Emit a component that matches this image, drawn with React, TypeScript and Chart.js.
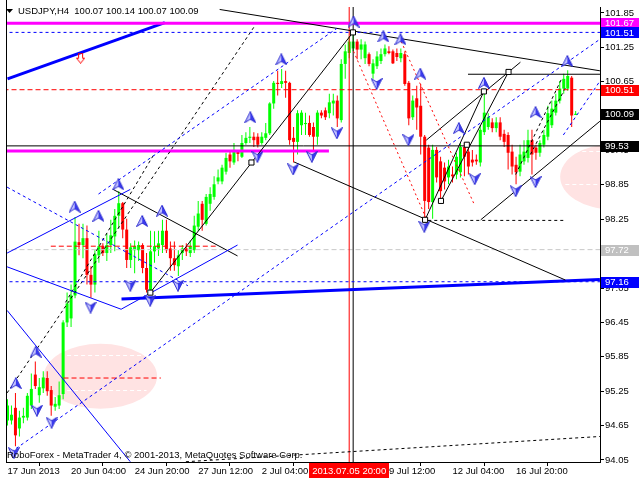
import React, { useEffect, useRef } from "react";
import { Chart, registerables } from "chart.js";

Chart.register(...registerables);

const FONT = "'Liberation Sans', Arial, sans-serif";
const symbolName = "USDJPY,H4";
const footerText = "RoboForex - MetaTrader 4, \u00a9 2001-2013, MetaQuotes Software Corp.";

// H4 candles, bar index 0 = 17 Jun 2013
const opens = [
  94.74, 94.74, 94.96, 94.60, 94.79, 94.79, 95.00, 95.54, 95.18, 95.30,
  95.48, 95.27, 94.98, 95.00, 95.20, 96.45, 96.52, 96.92, 97.85, 97.80,
  97.92, 97.28, 97.11, 97.62, 97.78, 97.66, 97.80, 97.95, 98.31, 98.53,
  98.07, 97.54, 97.71, 97.71, 97.80, 97.40, 97.02, 97.69, 97.74, 97.80,
  98.05, 97.74, 97.57, 97.43, 97.66, 97.74, 97.66, 97.71, 98.12, 98.52,
  98.17, 98.52, 98.64, 98.91, 98.91, 99.08, 99.38, 99.24, 99.43, 99.34,
  99.58, 99.67, 99.69, 99.69, 99.58, 99.67, 99.75, 100.27, 100.63, 100.61,
  100.66, 100.63, 99.67, 99.60, 99.89, 99.91, 99.93, 99.86, 99.69, 100.11,
  100.15, 100.10, 100.27, 100.32, 99.98, 100.96, 101.15, 101.23, 101.35, 101.21,
  101.06, 101.13, 100.79, 100.92, 101.01, 101.13, 101.18, 101.18, 101.15, 101.06,
  101.13, 100.63, 100.03, 100.36, 100.23, 99.69, 99.50, 98.55, 99.46, 99.26,
  99.15, 98.98, 99.03, 99.03, 99.07, 99.51, 99.43, 99.29, 99.29, 99.24,
  99.77, 99.86, 99.94, 99.84, 99.94, 99.74, 99.72, 99.43, 99.20, 99.08,
  99.26, 99.32, 99.63, 99.50, 99.41, 99.55, 99.69, 99.89, 100.11, 100.32,
  100.53, 100.53, 100.72, 100.07,
];
const highs = [
  95.11, 95.00, 95.22, 94.91, 94.96, 95.22, 95.56, 95.77, 95.48, 95.60,
  95.60, 95.34, 95.15, 95.42, 96.49, 96.97, 97.11, 98.29, 98.17, 98.17,
  98.14, 97.43, 97.71, 98.05, 97.83, 98.00, 98.24, 98.43, 98.74, 98.55,
  98.26, 97.83, 97.88, 97.86, 97.83, 97.66, 98.05, 98.04, 98.05, 98.24,
  98.24, 97.86, 97.86, 97.71, 97.80, 97.83, 97.88, 98.31, 98.57, 98.57,
  98.69, 98.81, 99.00, 99.12, 99.20, 99.41, 99.43, 99.58, 99.44, 99.72,
  99.77, 99.86, 99.77, 99.75, 99.77, 99.93, 100.29, 100.66, 100.84, 100.87,
  100.84, 100.65, 99.86, 100.15, 100.15, 100.11, 100.06, 99.94, 100.15, 100.15,
  100.20, 100.44, 100.44, 100.41, 101.04, 101.30, 101.44, 101.52, 101.39, 101.39,
  101.35, 101.16, 101.04, 101.18, 101.23, 101.30, 101.27, 101.21, 101.23, 101.23,
  101.18, 100.66, 100.41, 100.58, 100.61, 99.72, 99.55, 99.55, 99.51, 99.34,
  99.24, 99.29, 99.17, 99.41, 99.58, 99.58, 99.50, 99.46, 99.38, 99.89,
  100.49, 100.10, 100.01, 100.03, 100.03, 99.81, 99.77, 99.55, 99.34, 99.55,
  99.63, 99.81, 99.81, 99.55, 99.63, 99.81, 100.23, 100.32, 100.44, 100.66,
  100.79, 100.85, 100.75, 100.14,
];
const lows = [
  94.65, 94.67, 94.29, 94.46, 94.69, 94.74, 94.94, 95.29, 95.05, 95.22,
  95.17, 94.82, 94.91, 94.94, 95.11, 96.37, 96.37, 96.87, 97.62, 97.57,
  97.11, 96.88, 96.97, 97.49, 97.61, 97.52, 97.66, 97.69, 98.09, 97.92,
  97.40, 97.40, 97.31, 97.52, 97.31, 96.97, 96.94, 97.49, 97.61, 97.66,
  97.66, 97.35, 97.35, 97.26, 97.54, 97.61, 97.59, 97.66, 98.05, 98.05,
  98.14, 98.40, 98.59, 98.86, 98.86, 99.03, 99.15, 99.20, 99.26, 99.32,
  99.55, 99.58, 99.51, 99.50, 99.55, 99.63, 99.72, 100.18, 100.41, 100.54,
  100.37, 99.55, 99.24, 99.38, 99.72, 99.72, 99.69, 99.46, 99.55, 100.01,
  99.98, 100.01, 100.06, 99.86, 99.94, 100.70, 101.06, 101.18, 101.04, 101.04,
  100.96, 100.92, 100.70, 100.87, 100.96, 101.09, 101.13, 100.96, 101.01, 100.99,
  100.58, 99.89, 99.98, 99.81, 99.38, 98.26, 98.43, 98.26, 98.89, 98.57,
  98.77, 98.86, 98.89, 98.95, 98.98, 99.00, 99.03, 99.17, 99.20, 99.17,
  99.72, 99.81, 99.77, 99.77, 99.63, 99.51, 99.12, 99.03, 98.86, 99.00,
  99.20, 99.24, 99.03, 99.29, 99.34, 99.50, 99.63, 99.84, 100.06, 100.27,
  100.44, 100.49, 99.86, 100.07,
];
const closes = [
  95.00, 94.84, 94.48, 94.79, 94.82, 95.17, 95.29, 95.34, 95.32, 95.49,
  95.25, 95.00, 95.03, 95.18, 96.45, 96.78, 96.92, 97.86, 97.80, 97.92,
  97.28, 97.11, 97.64, 97.78, 97.66, 97.80, 97.97, 98.31, 98.53, 98.07,
  97.54, 97.76, 97.78, 97.80, 97.40, 97.02, 97.69, 97.78, 97.83, 98.05,
  97.71, 97.57, 97.45, 97.62, 97.74, 97.69, 97.78, 98.14, 98.35, 98.24,
  98.64, 98.69, 98.86, 98.98, 99.15, 99.32, 99.26, 99.46, 99.39, 99.58,
  99.67, 99.69, 99.63, 99.55, 99.69, 99.75, 100.27, 100.63, 100.61, 100.66,
  100.63, 99.63, 99.60, 100.10, 100.11, 99.93, 99.72, 99.69, 100.11, 100.06,
  100.03, 100.29, 100.32, 100.01, 100.96, 101.18, 101.35, 101.35, 101.21, 101.30,
  101.30, 100.96, 100.97, 101.09, 101.13, 101.23, 101.15, 100.97, 101.08, 101.15,
  100.61, 100.01, 100.32, 100.20, 99.69, 98.57, 98.55, 99.46, 98.98, 98.74,
  98.91, 99.17, 99.00, 99.34, 99.51, 99.34, 99.17, 99.24, 99.26, 99.81,
  100.11, 100.03, 99.84, 99.94, 99.69, 99.60, 99.41, 99.17, 99.07, 99.38,
  99.43, 99.63, 99.38, 99.41, 99.58, 99.72, 100.10, 100.18, 100.32, 100.53,
  100.70, 100.75, 100.06, 100.09,
];

const xTickBars = [0, 16, 32, 48, 64, 80, 96, 112, 128];
const xTickLabels = [
  "17 Jun 2013", "20 Jun 04:00", "24 Jun 20:00", "27 Jun 12:00", "2 Jul 04:00",
  "4 Jul 20:00", "9 Jul 12:00", "12 Jul 04:00", "16 Jul 20:00",
];
const yTickValues = [101.85, 101.25, 100.65, 100.05, 99.45, 98.85, 98.25, 97.65, 97.05, 96.45, 95.85, 95.25, 94.65, 94.05];

const levelPrices = [101.67, 101.51, 100.51, 100.09, 99.53, 97.72, 97.16];
const levelColors = ["#ff00ff", "#0000ff", "#ff0000", "#000000", "#000000", "#c0c0c0", "#0000ff"];

const markerBar = 86;
const markerLabel = "2013.07.05 20:00";
const verticalBars = [86, 87];
const verticalColors = ["#ff0000", "#000000"];

// segments: [bar1, price1, bar2, price2]
const magentaLines = [[-1, 101.67, 151, 101.67], [-1, 99.44, 80.9, 99.44]];
const blueThickLines = [[0, 100.7, 39.6, 101.68], [28.7, 96.86, 149.1, 97.2]];
const blackSolidLines = [
  [-1, 99.53, 151, 99.53],
  [53.4, 101.91, 149.1, 100.84],
  [72.1, 99.25, 140.4, 97.19],
  [35.95, 96.97, 86.95, 101.51],
  [105.1, 98.24, 119.9, 100.48],
  [109.1, 98.57, 126.1, 100.82],
  [105.4, 99.63, 129.1, 100.99],
  [115.9, 100.78, 151, 100.78],
  [119.1, 98.24, 149.1, 99.96],
  [26.6, 98.77, 57.9, 97.61],
];
const blackDashedLines = [
  [105.9, 98.23, 140.4, 98.23],
  [-0.1, 95.22, 62.1, 101.61],
  [14.6, 96.8, 37.1, 99.41],
  [127.9, 99.03, 139.6, 100.72],
  [131.6, 99.38, 140.4, 100.54],
  [44.9, 94.02, 149.1, 94.46],
];
const blueDashedLines = [
  [-1, 101.51, 151, 101.51],
  [-1, 97.16, 151, 97.16],
  [22.9, 98.69, 82.9, 101.58],
  [0.9, 94.19, 149.1, 101.39],
  [139.9, 99.72, 149.1, 100.66],
  [-0.1, 98.81, 45.4, 97.09],
];
const blueSolidLines = [
  [-0.1, 97.66, 30.9, 98.77],
  [-0.1, 97.42, 28.6, 96.68],
  [28.6, 96.68, 57.9, 97.8],
  [-0.1, 96.66, 30.9, 94.02],
];
const redDashedLines = [
  [-1, 100.51, 151, 100.51],
  [10.9, 97.78, 52.4, 97.78],
  [14.1, 95.48, 38.6, 95.48],
];
const redDottedLines = [
  [87.1, 101.18, 105.4, 98.26],
  [99.1, 101.35, 117.4, 98.52],
];
const grayDashedLines = [[-1, 97.72, 151, 97.72]];

const fractalUp = [
  [16.9, 98.47], [22.9, 98.31], [27.9, 98.86], [33.9, 98.22], [38.9, 98.4],
  [7.1, 95.94], [2.1, 95.39], [68.9, 101.04], [61.1, 100.03], [87.1, 101.7],
  [94.6, 101.44], [98.9, 101.39], [103.9, 100.79], [119.9, 100.63], [113.6, 99.84],
  [132.9, 100.12], [140.9, 101.01],
];
const fractalDown = [
  [20.9, 96.71], [30.9, 97.09], [35.9, 96.83], [42.9, 97.09], [7.4, 94.91],
  [11.1, 94.7], [1.6, 94.17], [62.9, 99.34], [76.6, 99.34], [71.9, 99.12],
  [82.9, 99.75], [92.9, 100.61], [100.9, 99.63], [104.9, 98.12], [117.6, 98.95],
  [127.9, 98.74], [132.9, 98.9],
];
const zigzagPoints = [
  [35.95, 96.97], [61.4, 99.24], [86.95, 101.51], [105.1, 98.24],
  [109.1, 98.57], [115.6, 99.55], [119.9, 100.48], [126.1, 100.82],
];
const redArrowPoints = [[18.4, 101.06]];

const ellipseCenters = [[23.4, 95.51], [152.1, 98.99]];
const ellipseRadii = [[14.25, 0.567], [13, 0.567]];
const ellipseInnerLines = [
  [15, 95.89, 35, 95.89], [15, 95.27, 35, 95.27],
  [142.9, 99.44, 151, 99.44], [140.4, 98.86, 151, 98.86],
];

function makeFractal(up: boolean) {
  const c = document.createElement("canvas");
  c.width = 12;
  c.height = 12;
  const g = c.getContext("2d") as CanvasRenderingContext2D;
  if (!up) {
    g.translate(0, 12);
    g.scale(1, -1);
  }
  g.beginPath();
  g.moveTo(6, 0.5); g.lineTo(0.5, 11.5); g.lineTo(6, 8); g.closePath();
  g.fillStyle = "#c4c4ff"; g.fill();
  g.beginPath();
  g.moveTo(6, 0.5); g.lineTo(11.5, 11.5); g.lineTo(6, 8); g.closePath();
  g.fillStyle = "#3a3af0"; g.fill();
  g.beginPath();
  g.moveTo(6, 0.5); g.lineTo(11.5, 11.5); g.lineTo(6, 8); g.lineTo(0.5, 11.5); g.closePath();
  g.strokeStyle = "#2a2ad0"; g.lineWidth = 1; g.stroke();
  return c;
}

function makeRedArrow() {
  const c = document.createElement("canvas");
  c.width = 9;
  c.height = 11;
  const g = c.getContext("2d") as CanvasRenderingContext2D;
  g.beginPath();
  g.moveTo(2.5, 0.5); g.lineTo(6.5, 0.5); g.lineTo(6.5, 5.5); g.lineTo(8.5, 5.5);
  g.lineTo(4.5, 10.5); g.lineTo(0.5, 5.5); g.lineTo(2.5, 5.5); g.closePath();
  g.strokeStyle = "#ff0000"; g.lineWidth = 1; g.stroke();
  return c;
}

function segs(list: number[][], color: string, width: number, dash: number[], order = 1) {
  return list.map(([a, p, b, q]) => ({
    type: "line",
    data: [{ x: a, y: p }, { x: b, y: q }],
    borderColor: color,
    borderWidth: width,
    borderDash: dash,
    pointRadius: 0,
    fill: false,
    tension: 0,
    order,
  }));
}

const bgPlugin = {
  id: "bgShapes",
  beforeDatasetsDraw(chart: any) {
    const { ctx, chartArea, scales } = chart;
    const x = scales.x, y = scales.y;
    ctx.save();
    ctx.beginPath();
    ctx.rect(chartArea.left, chartArea.top, chartArea.right - chartArea.left, chartArea.bottom - chartArea.top);
    ctx.clip();
    ellipseCenters.forEach(([ci, cp], k) => {
      const [rb, rp] = ellipseRadii[k];
      const cx = x.getPixelForValue(ci);
      const cy = y.getPixelForValue(cp);
      const rx = Math.abs(x.getPixelForValue(ci + rb) - cx);
      const ry = Math.abs(y.getPixelForValue(cp + rp) - cy);
      ctx.beginPath();
      ctx.ellipse(cx, cy, rx, ry, 0, 0, Math.PI * 2);
      ctx.fillStyle = "#ffe3e3";
      ctx.fill();
    });
    ctx.strokeStyle = "#ffffff";
    ctx.lineWidth = 1;
    ctx.setLineDash([4, 3]);
    ellipseInnerLines.forEach(([a, p, b, q]) => {
      ctx.beginPath();
      ctx.moveTo(x.getPixelForValue(a), Math.round(y.getPixelForValue(p)) + 0.5);
      ctx.lineTo(x.getPixelForValue(b), Math.round(y.getPixelForValue(q)) + 0.5);
      ctx.stroke();
    });
    ctx.restore();
  },
};

const overlayPlugin = {
  id: "overlay",
  afterDraw(chart: any) {
    const { ctx, chartArea, scales } = chart;
    const x = scales.x, y = scales.y;
    ctx.save();
    // left frame
    ctx.fillStyle = "#000000";
    ctx.fillRect(chartArea.left - 1, 0, 1, chartArea.bottom + 1);

    ctx.font = `9.5px ${FONT}`;
    ctx.textBaseline = "middle";
    ctx.textAlign = "left";
    // price level boxes
    levelPrices.forEach((p, k) => {
      const py = y.getPixelForValue(p);
      ctx.fillStyle = levelColors[k];
      ctx.fillRect(chartArea.right + 1, Math.round(py) - 5, 38, 11);
      ctx.fillStyle = "#ffffff";
      ctx.fillText(p.toFixed(2), chartArea.right + 5, py + 0.5);
    });

    // time marker label
    const mx = x.getPixelForValue(markerBar);
    const tw = ctx.measureText(markerLabel).width;
    ctx.fillStyle = "#ff0000";
    ctx.fillRect(Math.round(mx - tw / 2 - 3), chartArea.bottom + 1, Math.round(tw + 6), 15);
    ctx.fillStyle = "#ffffff";
    ctx.fillText(markerLabel, mx - tw / 2, chartArea.bottom + 9);

    // header
    const last = opens.length - 1;
    ctx.fillStyle = "#000000";
    ctx.beginPath();
    ctx.moveTo(6, 9); ctx.lineTo(13, 9); ctx.lineTo(9.5, 13); ctx.closePath();
    ctx.fill();
    ctx.textBaseline = "alphabetic";
    ctx.fillText(
      `${symbolName}  ${opens[last].toFixed(2)} ${highs[last].toFixed(2)} ${lows[last].toFixed(2)} ${closes[last].toFixed(2)}`,
      18, 14
    );
    // footer
    ctx.fillText(footerText, 7, 458);
    ctx.restore();
  },
};

export default function App() {
  const ref = useRef<HTMLCanvasElement>(null);
  useEffect(() => {
    const canvas = ref.current;
    if (!canvas) return;
    const colors = opens.map((o, i) => (closes[i] >= o ? "#00ff00" : "#ff0000"));
    const fracUpImg = makeFractal(true);
    const fracDownImg = makeFractal(false);
    const redArrowImg = makeRedArrow();

    const datasets: any[] = [
      {
        type: "bar",
        data: opens.map((o, i) => ({ x: i, y: [lows[i], highs[i]] })),
        backgroundColor: colors,
        barThickness: 1,
        grouped: false,
        inflateAmount: 0,
        borderWidth: 0,
        order: 6,
      },
      {
        type: "bar",
        data: opens.map((o, i) => ({ x: i, y: [o, closes[i]] })),
        backgroundColor: colors,
        barThickness: 3,
        minBarLength: 1,
        grouped: false,
        inflateAmount: 0,
        borderWidth: 0,
        order: 5,
      },
      ...segs(grayDashedLines, "#c8c8c8", 1, [5, 3], 3),
      ...verticalBars.map((b, k) => ({
        type: "line",
        data: [{ x: b, y: 94.015 }, { x: b, y: 101.953 }],
        borderColor: verticalColors[k],
        borderWidth: 1,
        pointRadius: 0,
        fill: false,
        order: 2,
      })),
      ...segs(blueSolidLines, "#0000ff", 1, []),
      ...segs(blueDashedLines, "#0000ff", 1, [3, 3]),
      ...segs(redDashedLines, "#ff0000", 1, [5, 3]),
      ...segs(redDottedLines, "#ff0000", 1, [2, 3]),
      ...segs(blackDashedLines, "#000000", 1, [3, 3]),
      ...segs(blackSolidLines, "#000000", 1, []),
      ...segs(magentaLines, "#ff00ff", 3, []),
      ...segs(blueThickLines, "#0000ff", 3, []),
      {
        type: "line",
        showLine: false,
        data: zigzagPoints.map(([a, p]) => ({ x: a, y: p })),
        pointStyle: "rect",
        pointRadius: 3.6,
        pointBackgroundColor: "#ffffff",
        pointBorderColor: "#000000",
        pointBorderWidth: 1,
        order: 0,
      },
      {
        type: "line",
        showLine: false,
        data: fractalUp.map(([a, p]) => ({ x: a, y: p })),
        pointStyle: fracUpImg,
        pointRadius: 6,
        order: 0,
      },
      {
        type: "line",
        showLine: false,
        data: fractalDown.map(([a, p]) => ({ x: a, y: p })),
        pointStyle: fracDownImg,
        pointRadius: 6,
        order: 0,
      },
      {
        type: "line",
        showLine: false,
        data: redArrowPoints.map(([a, p]) => ({ x: a, y: p })),
        pointStyle: redArrowImg,
        pointRadius: 5,
        order: 0,
      },
    ];

    const chart = new Chart(canvas, {
      type: "bar",
      data: { datasets },
      options: {
        responsive: false,
        animation: false,
        devicePixelRatio: 1,
        events: [],
        layout: { padding: { left: 3, right: 0, top: 0, bottom: 0 } },
        plugins: { legend: { display: false }, tooltip: { enabled: false } },
        scales: {
          x: {
            type: "linear",
            position: "bottom",
            min: -0.125,
            max: 149.125,
            offset: false,
            grid: { display: true, drawOnChartArea: false, drawTicks: true, tickLength: 4, color: "#000000" },
            border: { display: true, color: "#000000" },
            afterBuildTicks: (s: any) => {
              s.ticks = xTickBars.map((v) => ({ value: v }));
            },
            afterFit: (s: any) => {
              s.height = 18;
              s.paddingLeft = 0;
              s.paddingRight = 0;
            },
            ticks: {
              autoSkip: false,
              maxRotation: 0,
              align: "start",
              padding: 0,
              color: "#000000",
              font: { family: FONT, size: 9.5 },
              callback: (_v: any, i: number) => xTickLabels[i] ?? "",
            },
          },
          y: {
            type: "linear",
            position: "right",
            min: 94.015,
            max: 101.953,
            grid: { display: true, drawOnChartArea: false, drawTicks: true, tickLength: 4, color: "#000000" },
            border: { display: true, color: "#000000" },
            afterBuildTicks: (s: any) => {
              s.ticks = yTickValues.map((v) => ({ value: v }));
            },
            afterFit: (s: any) => {
              s.width = 40;
              s.paddingTop = 0;
              s.paddingBottom = 0;
            },
            ticks: {
              padding: 1,
              color: "#000000",
              font: { family: FONT, size: 9.5 },
              callback: (v: any) => Number(v).toFixed(2),
            },
          },
        },
      } as any,
      plugins: [bgPlugin, overlayPlugin],
    });
    return () => chart.destroy();
  }, []);

  return (
    <div style={{ position: "fixed", left: 0, top: 0, width: 640, height: 480, background: "#ffffff" }}>
      <canvas ref={ref} width={640} height={480} style={{ display: "block", width: 640, height: 480 }} />
    </div>
  );
}
